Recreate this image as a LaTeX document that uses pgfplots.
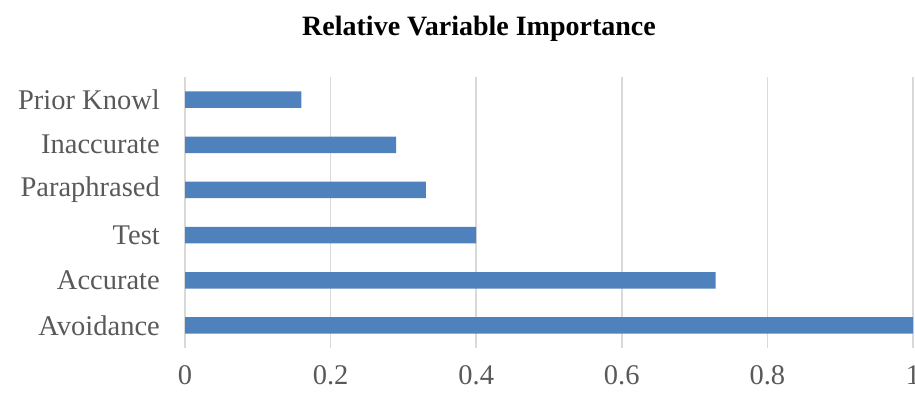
\documentclass[border=0pt]{standalone}
\usepackage{fontspec}
\setmainfont{Liberation Serif}
\usepackage{pgfplots}
\pgfplotsset{compat=1.18}
\definecolor{barblue}{HTML}{4F81BD}
\definecolor{gridgray}{HTML}{D9D9D9}
\definecolor{labgray}{HTML}{595959}
\begin{document}
\begin{tikzpicture}
\begin{axis}[
  at={(185pt,44pt)}, anchor=south west,
  scale only axis, width=728pt, height=271pt,
  xbar, bar width=16.5pt,
  xmin=0, xmax=1, ymin=-0.5, ymax=5.5,
  xtick={0,0.2,0.4,0.6,0.8,1},
  ytick={0,1,2,3,4,5},
  yticklabels={Avoidance,Accurate,Test,Paraphrased,Inaccurate,Prior Knowl},
  xmajorgrids, major grid style={draw=gridgray, line width=1.5pt},
  axis line style={draw=none},
  major tick length=0pt,
  /pgf/number format/assume math mode=true,
  xticklabel style={font=\fontsize{28.5}{32}\selectfont, text=labgray, inner sep=0pt, yshift=-17pt},
  yticklabel style={font=\fontsize{28.5}{32}\selectfont, text=labgray, inner sep=0pt, xshift=-25pt},
]
\addplot[fill=barblue, draw=none] coordinates {
  (1.0,0) (0.729,1) (0.400,2) (0.331,3) (0.290,4) (0.160,5)
};
\end{axis}
\node[anchor=base, font=\fontsize{28}{32}\selectfont\bfseries] at (479pt,356pt) {Relative Variable Importance};
\pgfresetboundingbox
\path (0pt,0pt) rectangle (915pt,392pt);
\end{tikzpicture}
\end{document}
